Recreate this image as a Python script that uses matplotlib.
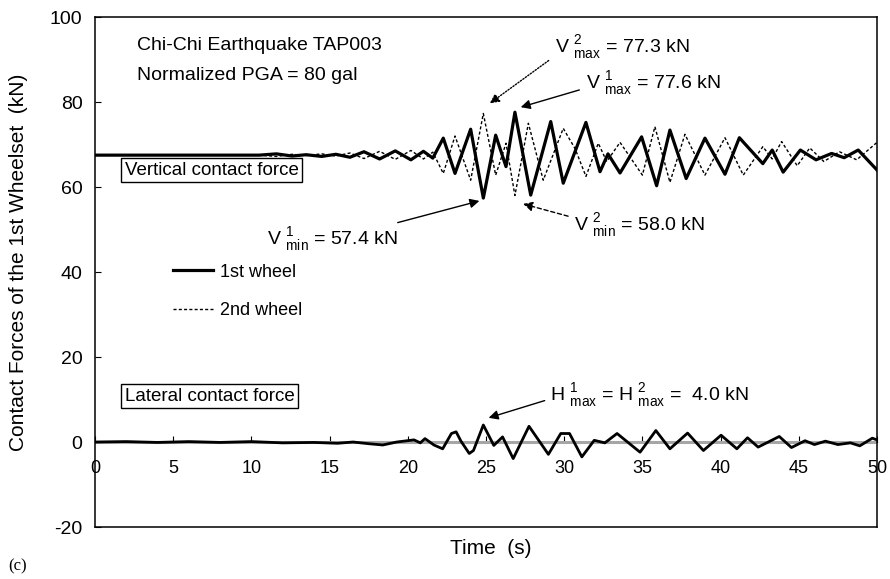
import matplotlib
matplotlib.use('Agg')
import matplotlib.pyplot as plt

plt.rcParams['font.family'] = ['Liberation Sans', 'DejaVu Sans']
plt.rcParams['mathtext.fontset'] = 'custom'
plt.rcParams['mathtext.rm'] = 'Liberation Sans'
plt.rcParams['axes.unicode_minus'] = False

# peak values quoted in the annotations
V1_MAX = 77.6
V1_MIN = 57.4
V2_MAX = 77.3
V2_MIN = 58.0
H_MAX = 4.0

# vertical contact force, 1st wheel (turning points, kN)
t_v1 = [0, 5, 10.5, 11.6, 12.6, 13.5, 14.5, 15.4, 16.3, 17.2, 18.2, 19.2, 20.2, 21.0, 21.6,
        22.27, 23.02, 24.02, 24.83, 25.62, 26.28, 26.85, 27.86, 29.14, 29.94, 31.39, 32.29,
        32.8, 33.57, 34.95, 35.91, 36.76, 37.8, 39.0, 40.28, 41.2, 42.7, 43.3, 44.0, 45.1,
        46.1, 47.1, 47.9, 48.8, 50.0]
v1 = [67.5, 67.5, 67.5, 67.8, 67.3, 67.6, 67.2, 67.7, 67.0, 68.3, 66.6, 68.5, 66.4, 68.4, 66.8,
      71.5, 63.2, 73.6, V1_MIN, 72.2, 64.8, V1_MAX, 58.1, 75.4, 60.9, 75.2, 63.6,
      67.8, 63.3, 71.8, 60.3, 73.4, 62.0, 71.5, 63.0, 71.6, 65.5, 68.7, 63.5, 68.7,
      66.4, 67.9, 66.9, 68.7, 64.0]

# vertical contact force, 2nd wheel
t_v2 = [0, 5, 10.5, 11.6, 12.6, 13.5, 14.5, 15.4, 16.3, 17.2, 18.2, 19.2, 20.2, 21.0, 21.6,
        22.27, 23.02, 24.02, 24.83, 25.62, 26.28, 26.85, 27.71, 28.66, 29.94, 30.7, 31.39,
        32.18, 32.72, 33.57, 35.0, 35.8, 36.76, 37.72, 39.0, 40.28, 41.45, 42.7, 43.3, 43.9,
        44.9, 45.7, 46.6, 47.6, 48.7, 50.0]
v2 = [67.5, 67.5, 67.5, 67.2, 67.7, 67.4, 67.8, 67.3, 68.0, 66.7, 68.4, 66.5, 68.6, 66.6, 68.2,
      63.2, 72.0, 61.6, V2_MAX, 62.8, 70.3, V2_MIN, 75.0, 61.6, 73.8, 69.0, 62.5,
      70.3, 66.0, 70.5, 62.8, 74.2, 61.1, 72.4, 62.8, 71.6, 62.8, 69.5, 66.6, 70.7,
      65.0, 69.2, 66.0, 68.3, 66.4, 70.5]

# lateral contact force (both wheels)
t_h = [0, 2, 4, 6, 8, 10, 12, 14, 15.5, 16.5, 17.5, 18.4, 19.3, 20.4, 20.8, 21.1, 21.67,
       22.23, 22.79, 23.09, 23.4, 23.93, 24.2, 24.83, 25.5, 26.06, 26.74, 27.75, 28.99,
       29.78, 30.34, 31.13, 31.92, 32.6, 33.38, 34.85, 35.86, 36.76, 37.89, 38.9, 40.03,
       41.04, 41.72, 42.4, 43.75, 44.53, 45.4, 46.0, 46.7, 47.5, 48.3, 48.9, 49.7, 50.0]
h = [0.0, 0.1, -0.1, 0.1, -0.1, 0.1, -0.2, -0.1, -0.3, 0.0, -0.4, -0.7, 0.0, 0.5, -0.2, 0.8, -0.7,
     -1.6, 2.0, 2.4, 0.2, -2.7, -2.0, H_MAX, -0.8, 1.2, -3.9, 3.7, -2.9,
     2.0, 2.0, -3.5, 0.4, -0.2, 2.0, -2.4, 2.7, -1.6, 2.1, -2.0, 1.6,
     -1.6, 1.0, -1.2, 1.3, -1.3, 0.3, -0.6, 0.2, -0.6, -0.2, -0.9, 0.9, 0.5]

fig = plt.figure(figsize=(8.9, 5.79), dpi=100)
ax = fig.add_axes([0.1067, 0.0898, 0.8787, 0.8808])

ax.axhline(0, color='0.65', lw=2.2, zorder=1)
l1, = ax.plot(t_v1, v1, color='black', lw=2.3, solid_joinstyle='round', zorder=3)
l2, = ax.plot(t_v2, v2, color='black', lw=1.0, ls=(0, (2.2, 1.6)), zorder=2)
ax.plot(t_h, h, color='black', lw=2.0, solid_joinstyle='round', zorder=3)

ax.set_xlim(0, 50)
ax.set_ylim(-20, 100)
ax.set_yticks(range(-20, 101, 20))
ax.tick_params(axis='y', direction='in', length=4, labelsize=14, pad=9)
ax.tick_params(axis='x', bottom=False, labelbottom=False)
for s in ax.spines.values():
    s.set_linewidth(1.1)

# time axis drawn along the zero line
sec = ax.secondary_xaxis(20 / 120)
sec.set_xticks(range(0, 51, 5))
sec.tick_params(direction='in', length=4, labelsize=13, pad=13, width=0.8)
sec.spines['bottom'].set_linewidth(0.8)

fig.text(0.551, 1 - 548 / 579, 'Time  (s)', ha='center', va='center', fontsize=15)
fig.text(0.021, 1 - 262 / 579, 'Contact Forces of the 1st Wheelset  (kN)', rotation=90,
         ha='center', va='center', fontsize=15)
fig.text(0.02, 1 - 566 / 579, '(c)', ha='center', va='center', fontsize=12,
         family='Liberation Serif')

ax.text(2.7, 93.4, 'Chi-Chi Earthquake TAP003', fontsize=14, va='center')
ax.text(2.7, 86.3, 'Normalized PGA = 80 gal', fontsize=14, va='center')

box = dict(boxstyle='square,pad=0.2', fc='white', ec='black', lw=1.0)
ax.text(1.9, 64.0, 'Vertical contact force', fontsize=13.5, va='center', bbox=box)
ax.text(1.9, 10.8, 'Lateral contact force', fontsize=13.5, va='center', bbox=box)

ax.legend([l1, l2], ['1st wheel', '2nd wheel'], loc='upper left',
          bbox_to_anchor=(0.079, 0.548), frameon=False, fontsize=13,
          handlelength=2.2, labelspacing=1.2, handletextpad=0.4)

solid = dict(arrowstyle='-|>', color='black', lw=1.0, mutation_scale=14)
ax.annotate(rf'V $^{{2}}_{{\mathrm{{max}}}}$ = {V2_MAX:.1f} kN', xy=(25.1, 79.3), xytext=(29.4, 92.8),
            fontsize=14, va='center',
            arrowprops=dict(solid, ls=(0, (1, 1.2)), relpos=(0.0, 0.2), shrinkA=3))
ax.annotate(rf'V $^{{1}}_{{\mathrm{{max}}}}$ = {V1_MAX:.1f} kN', xy=(27.05, 78.6), xytext=(31.4, 84.3),
            fontsize=14, va='center', arrowprops=dict(solid, relpos=(0.0, 0.35), shrinkA=3))
ax.annotate(rf'V $^{{1}}_{{\mathrm{{min}}}}$ = {V1_MIN:.1f} kN', xy=(24.75, 56.9), xytext=(11.0, 47.5),
            fontsize=14, va='center', arrowprops=dict(solid, relpos=(0.9, 1.0), shrinkA=2))
ax.annotate(rf'V $^{{2}}_{{\mathrm{{min}}}}$ = {V2_MIN:.1f} kN', xy=(27.2, 56.2), xytext=(30.6, 50.8),
            fontsize=14, va='center',
            arrowprops=dict(solid, ls=(0, (3, 2)), relpos=(0.0, 0.8), shrinkA=2))
ax.annotate(rf'H $^{{1}}_{{\mathrm{{max}}}}$ = H $^{{2}}_{{\mathrm{{max}}}}$ =  {H_MAX:.1f} kN',
            xy=(25.0, 5.5), xytext=(29.1, 10.8), fontsize=14, va='center',
            arrowprops=dict(solid, relpos=(0.0, 0.4), shrinkA=2))

fig.savefig('out.png', dpi=100)
